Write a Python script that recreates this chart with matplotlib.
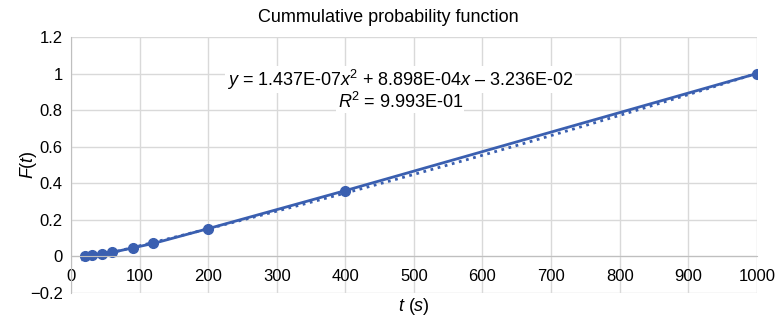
import numpy as np
import matplotlib.pyplot as plt
from matplotlib.ticker import FuncFormatter

plt.rcParams['font.family'] = ['Liberation Sans', 'DejaVu Sans']
plt.rcParams['mathtext.fontset'] = 'custom'
plt.rcParams['mathtext.rm'] = 'Liberation Sans'
plt.rcParams['mathtext.it'] = 'Liberation Sans:italic'

# data
t_s = [20, 30, 45, 60, 90, 120, 200, 400, 1000]
F_t = [0.005, 0.009, 0.015, 0.022, 0.047, 0.071, 0.152, 0.36, 1.0]

# polynomial trendline coefficients (as printed on the chart)
coef = [1.437e-07, 8.898e-04, -3.236e-02]

blue = '#3a5fb0'

fig = plt.figure(figsize=(7.77, 3.21), dpi=100)
ax = fig.add_axes([0.0914, 0.0872, 0.8826, 0.7975])

# trendline
tt = np.linspace(15, 1000, 300)
ax.plot(tt, np.polyval(coef, tt), ':', color=blue, lw=2.0)
# data series
ax.plot(t_s, F_t, '-o', color=blue, lw=2.0, ms=7)

ax.set_xlim(0, 1000)
ax.set_ylim(-0.2, 1.2)
ax.set_xticks(np.arange(0, 1001, 100))
ax.set_yticks(np.arange(-0.2, 1.21, 0.2))
ax.yaxis.set_major_formatter(FuncFormatter(lambda v, p: ('%g' % round(v, 2)).replace('-', '\u2212')))
ax.grid(True, color='#d9d9d9', lw=1)
ax.set_axisbelow(True)

for s in ['top', 'right']:
    ax.spines[s].set_visible(False)
ax.spines['bottom'].set_position(('data', 0))
ax.spines['bottom'].set_color('#bfbfbf')
ax.spines['left'].set_color('#bfbfbf')
ax.tick_params(length=0, labelsize=12, colors='#000000', pad=6)
ax.tick_params(axis='x', pad=9)

fig.text(0.5, 0.945, 'Cummulative probability function', fontsize=13,
         ha='center', va='center')
ax.set_xlabel('$t$ ($s$)', fontsize=13)
ax.xaxis.set_label_coords(0.5, -0.012)
ax.set_ylabel('$F$($t$)', fontsize=13)
ax.yaxis.set_label_coords(-0.047, 0.5)

ax.text(480, 0.965, '$y$ = 1.437E-07$x$$^2$ + 8.898E-04$x$ \u2013 3.236E-02',
        ha='center', va='center', fontsize=13,
        bbox=dict(facecolor='white', edgecolor='none', pad=1))
ax.text(480, 0.845, '$R$$^2$ = 9.993E-01', ha='center', va='center', fontsize=13,
        bbox=dict(facecolor='white', edgecolor='none', pad=1))

fig.savefig('out.png', dpi=100)
